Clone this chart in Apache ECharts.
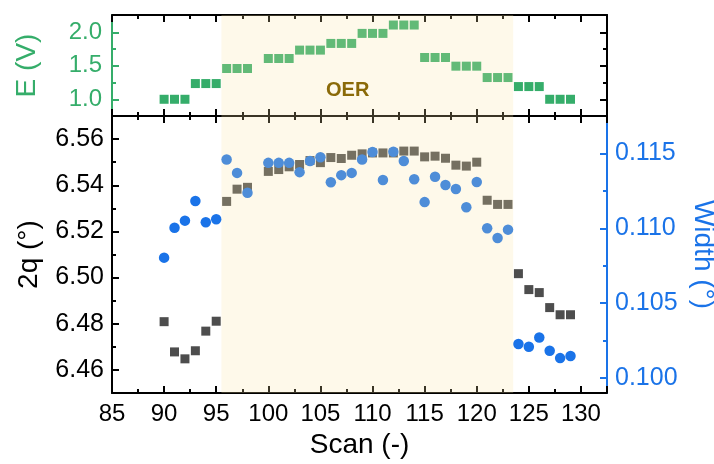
<!DOCTYPE html>
<html><head><meta charset="utf-8">
<script src="https://cdn.jsdelivr.net/npm/echarts@6/dist/echarts.min.js"></script>
<style>html,body{margin:0;padding:0;background:#fff}#c{width:714px;height:464px}</style>
</head><body><div id="c"></div>
<script>
// ---- data ----
const scans = [90,91,92,93,94,95,96,97,98,100,101,102,103,104,105,106,107,108,109,110,111,112,113,114,115,116,117,118,119,120,121,122,123,124,125,126,127,128,129];
const potentialV = [1.0,1.0,1.0,1.235,1.235,1.235,1.46,1.46,1.46,1.61,1.61,1.61,1.735,1.735,1.735,1.835,1.835,1.835,1.985,1.985,1.985,2.11,2.11,2.11,1.625,1.625,1.625,1.495,1.495,1.495,1.325,1.325,1.325,1.19,1.19,1.19,1.0,1.0,1.0];
const twoTheta = [6.4809,6.4678,6.4648,6.4683,6.4768,6.4811,6.5330,6.5383,6.5391,6.5460,6.5468,6.5480,6.5490,6.5507,6.5498,6.5520,6.5516,6.5530,6.5536,6.5540,6.5540,6.5540,6.5548,6.5548,6.5523,6.5526,6.5517,6.5487,6.5483,6.5500,6.5335,6.5317,6.5317,6.5017,6.4948,6.4935,6.4870,6.4839,6.4839];
const peakWidth = [0.10804,0.11004,0.11051,0.11182,0.11040,0.11060,0.11460,0.11370,0.11237,0.11437,0.11437,0.11437,0.11375,0.11450,0.11475,0.11307,0.11355,0.11370,0.11460,0.11509,0.11322,0.11511,0.11449,0.11327,0.11175,0.11344,0.11289,0.11262,0.11140,0.11309,0.11000,0.10935,0.10991,0.10227,0.10209,0.10271,0.10182,0.10133,0.10147];
const oerRange = [95.5, 123.5];
const oerLabel = 'OER';
const eMajor = [1.0, 1.5, 2.0];
const eMinor = [1.25, 1.75];
const thetaMajor = [6.46, 6.48, 6.50, 6.52, 6.54, 6.56];
const thetaMinor = [6.47, 6.49, 6.51, 6.53, 6.55];
const widthMajor = [0.100, 0.105, 0.110, 0.115];
const widthMinor = [0.1025, 0.1075, 0.1125];

// ---- style ----
const FONT = 'Liberation Sans, Arial, sans-serif';
const GREEN = '#35ad6a', BLUE = '#1a73e8', GRAY = '#4d4d4d', BLACK = '#000';
const X = {min: 85, max: 132.5, interval: 5};

function xAxis(grid, pos, showLabels, extra) {
  return Object.assign({
    type: 'value', gridIndex: grid, position: pos, min: X.min, max: X.max, interval: X.interval,
    axisLine: {show: true, onZero: false, lineStyle: {color: BLACK, width: 2}},
    axisTick: {show: true, inside: true, length: 7, lineStyle: {color: BLACK, width: 2}},
    minorTick: {show: true, splitNumber: 2, length: 4, lineStyle: {color: BLACK, width: 2}},
    axisLabel: {show: showLabels, color: BLACK, fontSize: 24, fontFamily: FONT, margin: 9},
    splitLine: {show: false}
  }, extra || {});
}
function yAxis(grid, pos, min, max, major, color, labels, fmt, extra) {
  return Object.assign({
    type: 'value', gridIndex: grid, position: pos, min: min, max: max,
    axisLine: {show: true, onZero: false, lineStyle: {color: color, width: 2}},
    axisTick: {show: true, inside: true, length: 7, customValues: major, lineStyle: {color: color, width: 2}},
    axisLabel: {show: labels, customValues: major, color: color, fontSize: 25, fontFamily: FONT, margin: 8,
      formatter: v => v.toFixed(fmt)},
    splitLine: {show: false}
  }, extra || {});
}
function yMinor(grid, pos, min, max, minor, color) {
  return {
    type: 'value', gridIndex: grid, position: pos, min: min, max: max,
    axisLine: {show: false},
    axisTick: {show: true, inside: true, length: 4, customValues: minor, lineStyle: {color: color, width: 2}},
    axisLabel: {show: false}, splitLine: {show: false}
  };
}
const nameStyle = (c) => ({color: c, fontSize: 28, fontFamily: FONT});

const chart = echarts.init(document.getElementById('c'), null, {renderer: 'canvas'});
const oerArea = {
  silent: true, z: 10,
  itemStyle: {color: 'rgba(250,229,163,0.23)'},
  data: [[{xAxis: oerRange[0]}, {xAxis: oerRange[1]}]]
};
chart.setOption({
  animation: false,
  backgroundColor: '#fff',
  grid: [
    {left: 112, top: 15, width: 495, height: 101, containLabel: false, outerBoundsMode: 'none'},
    {left: 112, top: 116, width: 495, height: 277, containLabel: false, outerBoundsMode: 'none'}
  ],
  xAxis: [
    xAxis(0, 'bottom', false),
    xAxis(0, 'top', false),
    xAxis(1, 'bottom', true, {name: 'Scan (-)', nameLocation: 'middle', nameGap: 36, nameTextStyle: nameStyle(BLACK)}),
    xAxis(1, 'top', false)
  ],
  yAxis: [
    yAxis(0, 'left', 0.75, 2.26, eMajor, GREEN, true, 1, {axisLabel: {show: true, customValues: eMajor, color: GREEN, fontSize: 24, fontFamily: FONT, margin: 10, formatter: v => v.toFixed(1)},
      name: 'E (V)', nameLocation: 'middle', nameGap: 71, nameTextStyle: nameStyle(GREEN)}),
    yMinor(0, 'left', 0.75, 2.26, eMinor, GREEN),
    yAxis(0, 'right', 0.75, 2.26, eMajor, BLACK, false, 1),
    yMinor(0, 'right', 0.75, 2.26, eMinor, BLACK),
    yAxis(1, 'left', 6.45, 6.57, thetaMajor, BLACK, true, 2, {name: '2q (°)', nameLocation: 'middle', nameGap: 69, nameTextStyle: nameStyle(BLACK)}),
    yMinor(1, 'left', 6.45, 6.57, thetaMinor, BLACK),
    yAxis(1, 'right', 0.099, 0.1175, widthMajor, BLUE, true, 3, {name: 'Width (°)', nameLocation: 'middle', nameRotate: -90, nameGap: 52, nameTextStyle: nameStyle(BLUE)}),
    yMinor(1, 'right', 0.099, 0.1175, widthMinor, BLUE)
  ],
  series: [
    {type: 'scatter', xAxisIndex: 0, yAxisIndex: 0, symbol: 'rect', symbolSize: 9,
      itemStyle: {color: GREEN, opacity: 1}, data: scans.map((s, i) => [s, potentialV[i]]), markArea: oerArea},
    {type: 'scatter', xAxisIndex: 2, yAxisIndex: 4, symbol: 'rect', symbolSize: 9,
      itemStyle: {color: GRAY, opacity: 1}, data: scans.map((s, i) => [s, twoTheta[i]])},
    {type: 'scatter', xAxisIndex: 2, yAxisIndex: 6, symbol: 'circle', symbolSize: 10.5,
      itemStyle: {color: BLUE, opacity: 1}, data: scans.map((s, i) => [s, peakWidth[i]]), markArea: oerArea}
  ],
  graphic: [
    {type: 'text', left: 326, top: 80, z: 20, style: {text: oerLabel, fill: '#8a6a08', font: 'bold 20px ' + FONT}}
  ]
});
</script>
</body></html>
